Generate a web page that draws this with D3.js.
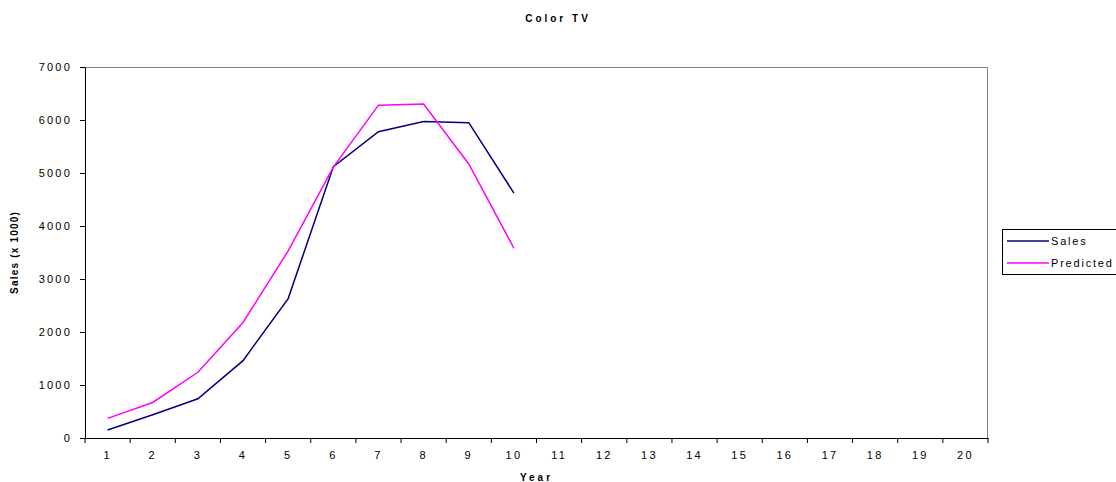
<!DOCTYPE html>
<html>
<head>
<meta charset="utf-8">
<script src="https://cdn.jsdelivr.net/npm/d3@7"></script>
<style>
  body { margin: 0; background: #fff; }
  text { font-family: "Liberation Sans", Arial, sans-serif; }
</style>
</head>
<body>
<div id="chart"></div>
<script>
const years = d3.range(1, 21).map(String);
const yTicks = [0, 1000, 2000, 3000, 4000, 5000, 6000, 7000];
const salesValues = [150, 440, 740, 1460, 2630, 5120, 5780, 5970, 5950, 4620];
const predictedValues = [370, 670, 1240, 2180, 3530, 5110, 6280, 6300, 5170, 3580];
const seriesNames = ["Sales", "Predicted"];
const seriesColors = ["#000080", "#ff00ff"];

const width = 1116;
const height = 482;
const margin = { top: 67, right: 128, bottom: 44, left: 85 };
const plotW = width - margin.left - margin.right;
const plotH = height - margin.top - margin.bottom;

const svg = d3.select("#chart")
  .append("svg")
  .attr("width", width)
  .attr("height", height);

// Title
svg.append("text")
  .attr("x", width / 2)
  .attr("y", 22)
  .attr("text-anchor", "middle")
  .style("font-size", "10px")
  .style("font-weight", "bold")
  .style("letter-spacing", "3px")
  .text("Color TV");

const g = svg.append("g")
  .attr("transform", `translate(${margin.left},${margin.top})`);

const x = d3.scaleBand()
  .domain(years)
  .range([0, plotW]);

const y = d3.scaleLinear()
  .domain([0, 7000])
  .range([plotH, 0]);

// plot frame (gray top/right)
g.append("path")
  .attr("d", `M0,0.5H${plotW - 0.5}V${plotH}`)
  .attr("fill", "none")
  .attr("stroke", "#808080")
  .attr("stroke-width", 1);

// Y axis
const yAxis = g.append("g")
  .call(d3.axisLeft(y).tickValues(yTicks).tickFormat(d3.format("d"))
    .tickSize(5).tickPadding(8).tickSizeOuter(0));
yAxis.select(".domain").attr("stroke", "#000");
yAxis.selectAll("line").attr("stroke", "#000");
yAxis.selectAll("text")
  .style("font-size", "11px")
  .style("letter-spacing", "2.2px")
  .attr("fill", "#000");

// X axis with ticks on category boundaries
const xAxis = g.append("g")
  .attr("transform", `translate(0,${plotH})`)
  .call(d3.axisBottom(x).tickSize(0).tickPadding(13));
xAxis.select(".domain").attr("stroke", "#000");
xAxis.selectAll("text")
  .style("font-size", "11px")
  .style("letter-spacing", "2.2px")
  .attr("dx", "0px")
  .attr("fill", "#000");
xAxis.selectAll(".boundary")
  .data(years.concat(["end"]))
  .join("line")
  .attr("class", "boundary")
  .attr("x1", (d, i) => i * x.step())
  .attr("x2", (d, i) => i * x.step())
  .attr("y1", 0)
  .attr("y2", 5)
  .attr("stroke", "#000");

// Axis titles
svg.append("text")
  .attr("transform", `translate(18,${margin.top + plotH / 2}) rotate(-90)`)
  .attr("text-anchor", "middle")
  .style("font-size", "10px")
  .style("font-weight", "bold")
  .style("letter-spacing", "1.2px")
  .text("Sales (x 1000)");

svg.append("text")
  .attr("x", margin.left + plotW / 2)
  .attr("y", 481)
  .attr("text-anchor", "middle")
  .style("font-size", "10px")
  .style("font-weight", "bold")
  .style("letter-spacing", "3px")
  .text("Year");

// Lines
const line = d3.line()
  .x((d, i) => x(years[i]) + x.bandwidth() / 2)
  .y(d => y(d));

[salesValues, predictedValues].forEach((vals, k) => {
  g.append("path")
    .datum(vals)
    .attr("fill", "none")
    .attr("stroke", seriesColors[k])
    .attr("stroke-width", 1.5)
    .attr("d", line);
});

// Legend
const legend = svg.append("g")
  .attr("transform", "translate(1002,229)");

legend.append("rect")
  .attr("x", 0.5)
  .attr("y", 0.5)
  .attr("width", 130)
  .attr("height", 45)
  .attr("fill", "#fff")
  .attr("stroke", "#000");

seriesNames.forEach((name, i) => {
  const ly = 12 + i * 22;
  legend.append("line")
    .attr("x1", 5)
    .attr("x2", 47)
    .attr("y1", ly)
    .attr("y2", ly)
    .attr("stroke", seriesColors[i])
    .attr("stroke-width", 1.5);
  legend.append("text")
    .attr("x", 49)
    .attr("y", ly + 3.5)
    .style("font-size", "11px")
    .style("letter-spacing", "1.8px")
    .text(name);
});
</script>
</body>
</html>
